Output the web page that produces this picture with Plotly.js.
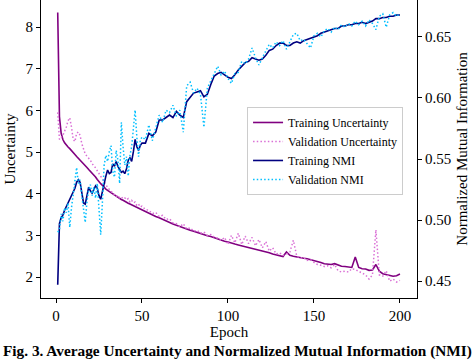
<!DOCTYPE html>
<html>
<head>
<meta charset="utf-8">
<script src="https://cdn.plot.ly/plotly-3.0.1.min.js"></script>
<style>html,body{margin:0;padding:0;background:#fff;}#chart{width:474px;height:361px;}</style>
</head>
<body>
<div id="chart"></div>
<script>
const epochs = [1,2,3,4,5,6,7,8,9,10,11,12,13,14,15,16,17,18,19,20,21,22,23,24,25,26,27,28,29,30,31,32,33,34,35,36,37,38,39,40,41,42,43,44,45,46,47,48,49,50,
52,54,56,58,60,62,64,66,68,70,72,74,76,78,80,82,84,86,88,90,92,94,96,98,100,102,104,106,108,110,112,114,116,118,120,122,124,126,128,130,132,134,136,138,140,142,144,146,148,150,152,154,156,158,160,162,164,166,168,170,172,174,176,178,180,182,184,186,188,190,192,194,196,198,200];

const trainUncertainty = [8.35,5.85,5.45,5.30,5.22,5.16,5.12,5.08,5.04,4.99,4.94,4.89,4.85,4.81,4.77,4.73,4.68,4.63,4.58,4.54,4.50,4.46,4.40,4.34,4.28,4.24,4.20,4.15,4.11,4.08,4.05,4.02,4.00,3.97,3.95,3.92,3.89,3.86,3.84,3.81,3.79,3.77,3.75,3.73,3.71,3.69,3.66,3.64,3.62,3.60,
3.57,3.53,3.49,3.45,3.42,3.38,3.35,3.31,3.27,3.24,3.21,3.17,3.15,3.12,3.10,3.07,3.04,3.02,2.99,2.97,2.94,2.91,2.89,2.86,2.84,2.81,2.79,2.77,2.75,2.73,2.70,2.69,2.67,2.65,2.63,2.61,2.58,2.55,2.53,2.51,2.49,2.60,2.52,2.50,2.48,2.47,2.45,2.44,2.42,2.40,2.38,2.35,2.32,2.31,2.30,2.32,2.28,2.26,2.25,2.24,2.23,2.48,2.23,2.20,2.19,2.16,2.17,2.30,2.14,2.08,2.06,2.05,2.02,2.03,2.07];

const valUncertainty = [5.95,5.30,5.35,5.40,5.50,5.60,5.75,5.82,5.60,5.30,5.25,5.45,5.48,5.40,5.20,5.05,4.95,4.90,4.85,4.80,4.72,4.68,4.62,4.55,4.48,4.42,4.35,4.28,4.20,4.15,4.10,4.06,4.00,3.98,3.93,3.96,3.90,3.92,3.88,3.90,3.85,3.88,3.80,3.84,3.78,3.80,3.72,3.75,3.68,3.70,
3.62,3.60,3.52,3.55,3.45,3.48,3.38,3.40,3.30,3.28,3.20,3.28,3.15,3.18,3.10,3.12,3.05,3.08,3.00,3.02,2.96,2.93,2.88,2.95,2.78,3.00,2.82,3.05,2.78,2.98,2.80,2.95,2.75,2.90,2.70,2.85,2.62,2.70,2.55,2.58,2.52,2.55,2.60,2.88,2.50,2.45,2.47,2.40,2.42,2.35,2.30,2.28,2.25,2.27,2.22,2.30,2.15,2.12,2.14,2.12,2.20,2.18,2.13,2.10,2.05,1.95,2.05,3.13,2.05,2.02,2.15,1.90,1.95,1.88,1.92];

const trainNMI = [0.447,0.497,0.502,0.504,0.508,0.511,0.514,0.516,0.519,0.522,0.526,0.531,0.533,0.531,0.524,0.514,0.513,0.521,0.527,0.524,0.522,0.525,0.528,0.526,0.520,0.517,0.524,0.531,0.536,0.541,0.538,0.539,0.546,0.544,0.548,0.544,0.541,0.539,0.540,0.538,0.542,0.549,0.551,0.548,0.556,0.566,0.560,0.557,0.561,0.563,
0.563,0.571,0.569,0.572,0.582,0.582,0.584,0.586,0.584,0.589,0.586,0.584,0.597,0.601,0.604,0.605,0.606,0.601,0.603,0.611,0.618,0.620,0.621,0.619,0.617,0.616,0.619,0.623,0.626,0.629,0.630,0.633,0.632,0.631,0.632,0.635,0.639,0.640,0.643,0.645,0.645,0.643,0.643,0.645,0.646,0.645,0.647,0.648,0.649,0.650,0.651,0.653,0.654,0.655,0.656,0.657,0.657,0.659,0.659,0.660,0.660,0.661,0.661,0.662,0.661,0.662,0.663,0.665,0.665,0.666,0.666,0.667,0.667,0.668,0.668];

const valNMI = [0.490,0.492,0.505,0.499,0.510,0.506,0.514,0.494,0.510,0.521,0.535,0.543,0.530,0.533,0.520,0.508,0.498,0.515,0.525,0.529,0.520,0.527,0.518,0.530,0.510,0.488,0.515,0.545,0.553,0.548,0.556,0.561,0.540,0.535,0.557,0.549,0.530,0.580,0.560,0.545,0.552,0.536,0.553,0.560,0.575,0.590,0.568,0.552,0.565,0.568,
0.566,0.578,0.565,0.575,0.586,0.580,0.590,0.588,0.594,0.585,0.590,0.572,0.610,0.613,0.604,0.608,0.603,0.576,0.608,0.614,0.620,0.626,0.619,0.622,0.616,0.612,0.620,0.621,0.630,0.628,0.632,0.641,0.633,0.627,0.633,0.638,0.644,0.641,0.646,0.643,0.647,0.640,0.646,0.652,0.653,0.647,0.648,0.644,0.641,0.651,0.653,0.650,0.655,0.657,0.654,0.658,0.656,0.660,0.658,0.661,0.659,0.663,0.660,0.663,0.659,0.664,0.661,0.656,0.667,0.669,0.658,0.668,0.670,0.667,0.669];

const seriesNames = ['Training Uncertainty','Validation Uncertainty','Training NMI','Validation NMI'];
const xTicks = [0,50,100,150,200];
const yTicks = [2,3,4,5,6,7,8];
const y2Ticks = [0.45,0.50,0.55,0.60,0.65];
const caption = 'Fig. 3. Average Uncertainty and Normalized Mutual Information (NMI)';

const serif = 'Liberation Serif, Times New Roman, serif';
const dotDash = '1.5px,2.2px';

const traces = [
  {x: epochs, y: trainUncertainty, name: seriesNames[0], type: 'scatter', mode: 'lines',
   line: {color: '#800080', width: 1.6}, yaxis: 'y'},
  {x: epochs, y: valUncertainty, name: seriesNames[1], type: 'scatter', mode: 'lines',
   line: {color: '#DA70D6', width: 1.5, dash: dotDash}, yaxis: 'y'},
  {x: epochs, y: trainNMI, name: seriesNames[2], type: 'scatter', mode: 'lines',
   line: {color: '#000080', width: 1.6}, yaxis: 'y2'},
  {x: epochs, y: valNMI, name: seriesNames[3], type: 'scatter', mode: 'lines',
   line: {color: '#00BFFF', width: 1.5, dash: dotDash}, yaxis: 'y2'}
];

const axisCommon = {
  showgrid: false, zeroline: false, showline: true, linecolor: '#000', linewidth: 1,
  ticks: 'outside', ticklen: 4, tickwidth: 1, tickcolor: '#000',
  tickfont: {family: serif, size: 15, color: '#000'}
};

const layout = {
  width: 474, height: 361,
  margin: {l: 41, r: 57, t: 0, b: 63},
  paper_bgcolor: '#fff', plot_bgcolor: '#fff',
  showlegend: true,
  xaxis: Object.assign({}, axisCommon, {
    range: [-8.72, 209.9], tickvals: xTicks, ticktext: xTicks.map(String),
    title: {text: 'Epoch', font: {family: serif, size: 15, color: '#000'}, standoff: 2}
  }),
  yaxis: Object.assign({}, axisCommon, {
    range: [1.496, 8.648], tickvals: yTicks, ticktext: yTicks.map(String),
    title: {text: 'Uncertainty', font: {family: serif, size: 15, color: '#000'}, standoff: 6}
  }),
  yaxis2: Object.assign({}, axisCommon, {
    overlaying: 'y', side: 'right', anchor: 'x',
    range: [0.4361, 0.6803], tickvals: y2Ticks, ticktext: y2Ticks.map(v => v.toFixed(2)),
    title: {text: 'Normalized Mutual Information', font: {family: serif, size: 15, color: '#000'}, standoff: 6}
  }),
  legend: {
    x: 0.548, y: 0.641, xanchor: 'left', yanchor: 'top', itemwidth: 30,
    bgcolor: 'rgba(255,255,255,0.85)', bordercolor: '#cccccc', borderwidth: 1,
    font: {family: serif, size: 12, color: '#000'}, traceorder: 'normal'
  },
  annotations: [{
    text: '<b>' + caption + '</b>', xref: 'paper', yref: 'paper',
    x: -0.107, y: -0.140, xanchor: 'left', yanchor: 'top', showarrow: false,
    font: {family: serif, size: 15.3, color: '#000'}
  }]
};

Plotly.newPlot('chart', traces, layout, {displayModeBar: false, staticPlot: true});
</script>
</body>
</html>
